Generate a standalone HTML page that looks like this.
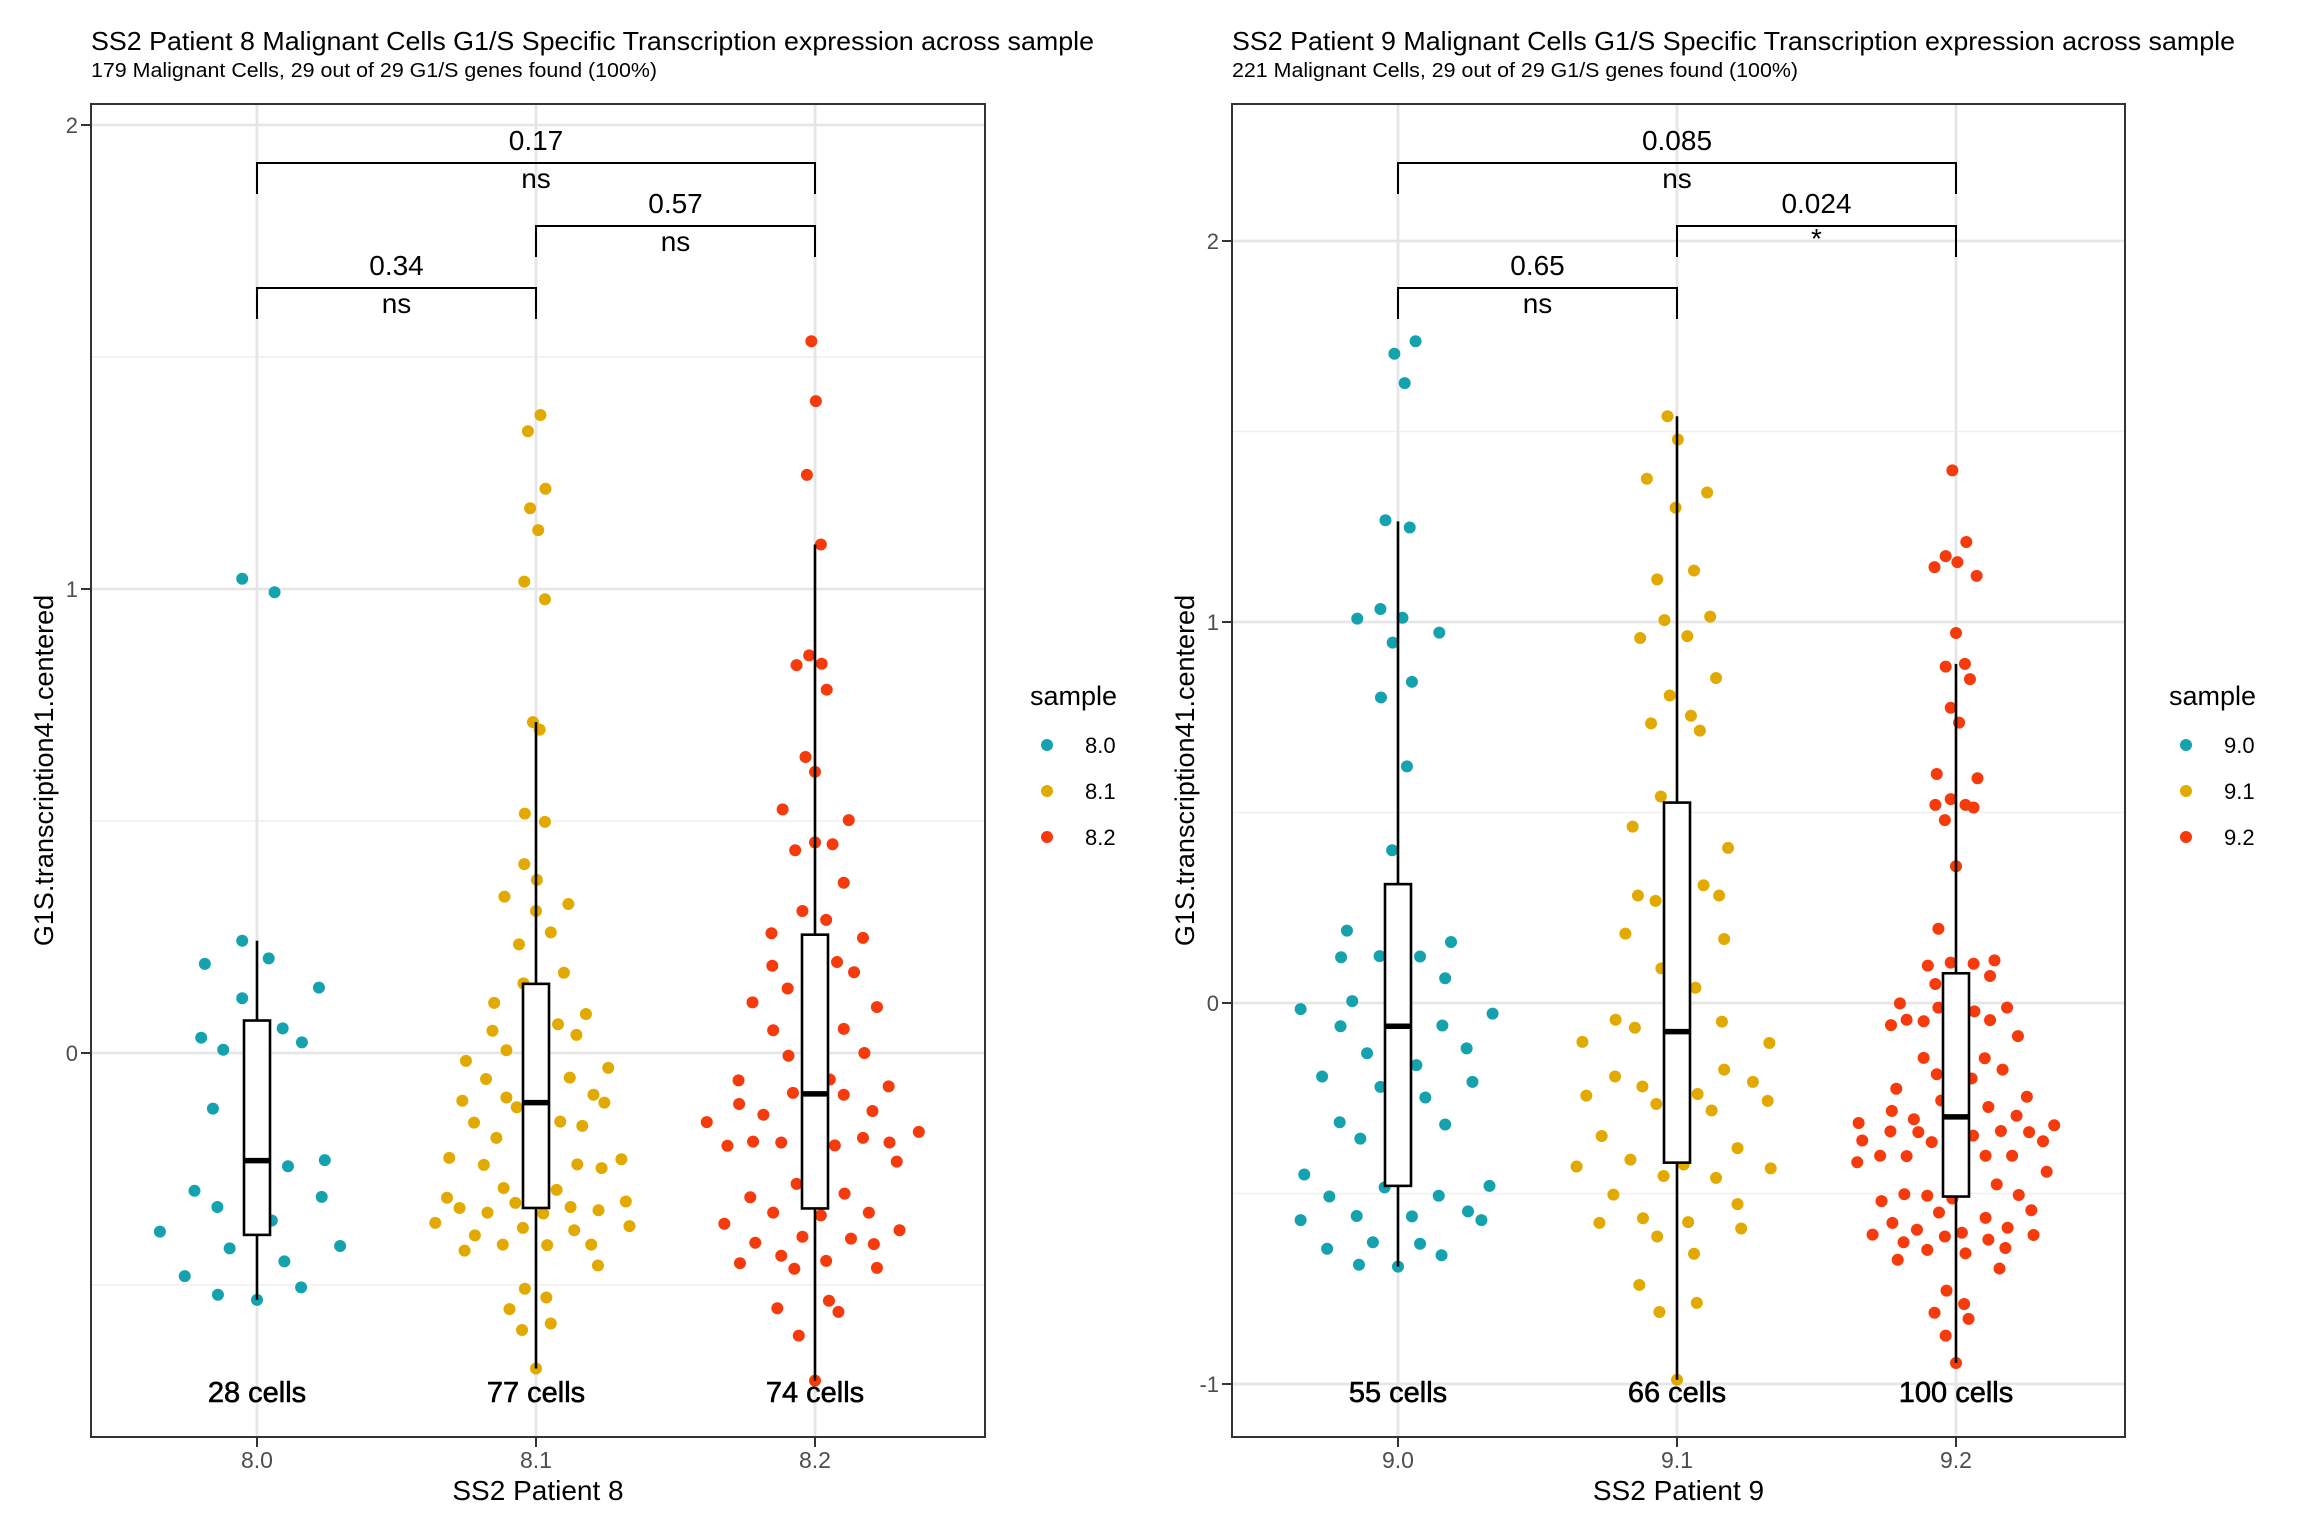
<!DOCTYPE html>
<html><head><meta charset="utf-8"><style>
html,body{margin:0;padding:0;background:#fff;}
svg{display:block;font-family:"Liberation Sans",Arial,sans-serif;}
</style></head><body>
<svg id="chart" width="2304" height="1536" viewBox="0 0 2304 1536" xmlns="http://www.w3.org/2000/svg"></svg>
<script>
// ---------- DATA ----------
const colors = ["#15A2AF", "#E2AA00", "#F53A0C"];
const p8Categories = ["8.0", "8.1", "8.2"];
const p9Categories = ["9.0", "9.1", "9.2"];
const p8Counts = ["28 cells", "77 cells", "74 cells"];
const p9Counts = ["55 cells", "66 cells", "100 cells"];
const p8Yticks = [0, 1, 2];
const p9Yticks = [-1, 0, 1, 2];
const minorTicks = [-0.5, 0.5, 1.5];
// jitter (category units) and values
const p8_0_dx = [-0.053,0.063,-0.053,-0.187,0.042,0.222,-0.053,0.092,-0.2,0.161,-0.121,-0.158,0.111,0.243,-0.224,-0.142,0.232,0.053,-0.348,0.298,-0.098,0.098,-0.259,0.158,-0.14,0];
const p8_0_v  = [1.022,0.993,0.242,0.192,0.204,0.141,0.118,0.053,0.033,0.023,0.007,-0.12,-0.244,-0.231,-0.297,-0.332,-0.31,-0.361,-0.385,-0.416,-0.421,-0.449,-0.481,-0.505,-0.521,-0.532];
const p8_1_dx = [0.016,-0.029,0.034,-0.021,0.008,-0.042,0.032,-0.011,0.013,-0.04,0.032,-0.042,0.003,-0.113,0.116,0,0.053,-0.061,0.1,-0.045,-0.15,0.179,-0.156,0.079,0.145,-0.106,-0.251,0.259,-0.179,0.121,-0.264,-0.106,0.206,0.245,-0.069,-0.222,0.087,0.166,-0.142,-0.311,-0.187,0.148,0.306,0.235,-0.116,0.074,-0.319,-0.074,0.322,-0.274,-0.174,0.026,0.124,0.224,-0.361,0.335,-0.219,-0.047,0.137,-0.119,0.04,0.198,-0.256,0.222,-0.04,0.037,-0.095,0.053,-0.05,0];
const p8_1_v  = [1.375,1.34,1.216,1.174,1.127,1.016,0.978,0.713,0.697,0.516,0.498,0.407,0.373,0.337,0.321,0.306,0.26,0.234,0.173,0.15,0.108,0.084,0.048,0.062,0.039,0.006,-0.017,-0.032,-0.056,-0.053,-0.103,-0.096,-0.09,-0.107,-0.117,-0.15,-0.148,-0.157,-0.183,-0.226,-0.241,-0.24,-0.229,-0.248,-0.291,-0.295,-0.312,-0.323,-0.32,-0.334,-0.344,-0.346,-0.332,-0.339,-0.366,-0.373,-0.393,-0.377,-0.382,-0.413,-0.414,-0.413,-0.426,-0.458,-0.508,-0.527,-0.552,-0.583,-0.597,-0.68];
const p8_2_dx = [-0.013,0.003,-0.029,0.021,-0.021,-0.066,0.024,0.042,-0.034,0,-0.116,0.121,0,0.063,-0.071,0.103,-0.045,0.04,-0.156,0.172,0.079,-0.153,0.14,-0.098,-0.224,0.222,-0.15,0.103,-0.095,0.177,-0.274,0.053,0.264,-0.079,0.103,-0.272,0.206,-0.185,-0.388,0.372,0.172,-0.222,-0.121,0.267,-0.314,0.071,0.293,-0.066,-0.232,0.106,-0.15,0.021,0.193,-0.325,0.303,-0.045,0.129,-0.214,0.211,-0.121,0.04,-0.269,-0.074,0.222,-0.135,0.05,0.084,-0.058,0];
const p8_2_v  = [1.534,1.405,1.246,1.096,0.857,0.836,0.839,0.783,0.638,0.606,0.525,0.502,0.454,0.45,0.437,0.367,0.306,0.287,0.258,0.248,0.196,0.188,0.174,0.139,0.109,0.099,0.049,0.052,-0.006,0,-0.059,-0.057,-0.072,-0.086,-0.09,-0.11,-0.125,-0.133,-0.149,-0.17,-0.183,-0.191,-0.193,-0.193,-0.2,-0.199,-0.234,-0.282,-0.311,-0.303,-0.344,-0.35,-0.344,-0.368,-0.382,-0.396,-0.4,-0.409,-0.412,-0.437,-0.448,-0.453,-0.465,-0.463,-0.55,-0.534,-0.558,-0.609,-0.706];
const p9_0_dx = [0.063,-0.013,0.024,-0.045,0.042,-0.063,-0.146,0.016,0.148,-0.019,0.05,-0.061,0.032,-0.021,-0.183,0.19,-0.204,-0.066,0.079,0.169,-0.164,-0.349,0.339,-0.206,0.159,0.246,-0.111,0.066,-0.272,0.267,-0.063,0.098,-0.209,0.169,-0.135,-0.336,-0.048,0.328,-0.246,0.146,-0.148,0.05,0.251,-0.349,0.299,-0.09,0.079,-0.254,0.156,-0.14,0];
const p9_0_v  = [1.737,1.704,1.627,1.267,1.248,1.034,1.009,1.011,0.972,0.946,0.843,0.802,0.621,0.401,0.19,0.16,0.12,0.123,0.122,0.065,0.005,-0.016,-0.028,-0.061,-0.059,-0.119,-0.132,-0.163,-0.193,-0.207,-0.22,-0.248,-0.313,-0.319,-0.356,-0.45,-0.484,-0.48,-0.508,-0.506,-0.559,-0.56,-0.547,-0.57,-0.57,-0.628,-0.632,-0.645,-0.662,-0.687,-0.692];
const p9_1_dx = [-0.034,0.003,-0.108,0.108,-0.005,0.061,-0.071,-0.045,0.119,-0.132,0.037,0.14,-0.026,0.05,-0.093,0.082,-0.058,-0.159,0.183,0.095,-0.14,-0.077,0.151,-0.185,0.169,-0.056,0.066,-0.22,-0.151,0.161,-0.339,0.331,0.169,-0.222,0.272,-0.124,-0.325,0.074,0.325,-0.074,0.124,-0.27,0.217,-0.167,-0.36,0.024,0.336,-0.048,0.14,-0.228,0.217,-0.278,-0.122,0.04,0.23,-0.071,0.061,-0.135,0.071,-0.063,0];
const p9_1_v  = [1.54,1.479,1.376,1.34,1.3,1.135,1.112,1.005,1.014,0.958,0.963,0.853,0.807,0.754,0.734,0.715,0.542,0.463,0.407,0.309,0.282,0.268,0.282,0.182,0.168,0.091,0.04,-0.044,-0.065,-0.049,-0.102,-0.105,-0.175,-0.193,-0.207,-0.219,-0.243,-0.239,-0.257,-0.265,-0.282,-0.349,-0.381,-0.411,-0.429,-0.424,-0.434,-0.454,-0.459,-0.503,-0.528,-0.577,-0.565,-0.575,-0.592,-0.613,-0.658,-0.74,-0.787,-0.811,-0.989];
const p9_2_dx = [-0.013,0.037,-0.037,0.005,-0.077,0.074,0,0.032,-0.037,0.05,-0.019,0.011,-0.069,0.077,-0.074,-0.019,0.034,0.063,-0.04,0,-0.063,-0.101,-0.019,0.063,0.138,0.122,-0.074,-0.201,-0.063,0.183,0.066,-0.177,-0.116,0.122,-0.233,0.222,-0.116,0.103,-0.069,0.167,0.056,-0.214,0.254,-0.053,-0.23,0.116,0.217,-0.151,-0.349,0.352,-0.235,-0.135,0.061,0.161,0.262,-0.336,-0.087,0.312,-0.272,-0.177,0.106,0.201,-0.354,0.325,0.146,-0.185,-0.103,-0.267,-0.013,0.225,-0.061,0.27,0.106,-0.228,0.185,-0.14,0.021,-0.299,-0.04,0.278,-0.188,0.116,-0.103,0.177,0.034,-0.209,0.156,-0.034,0.029,-0.077,0.045,-0.037,0];
const p9_2_v  = [1.398,1.21,1.173,1.157,1.144,1.121,0.971,0.89,0.883,0.85,0.775,0.736,0.601,0.59,0.52,0.535,0.52,0.513,0.48,0.359,0.195,0.098,0.106,0.103,0.112,0.071,0.05,-0.001,-0.012,-0.012,-0.022,-0.044,-0.048,-0.045,-0.058,-0.087,-0.144,-0.145,-0.187,-0.175,-0.198,-0.225,-0.246,-0.256,-0.283,-0.273,-0.296,-0.305,-0.315,-0.321,-0.337,-0.339,-0.348,-0.336,-0.339,-0.361,-0.365,-0.363,-0.401,-0.402,-0.401,-0.401,-0.418,-0.443,-0.476,-0.502,-0.506,-0.52,-0.513,-0.504,-0.55,-0.544,-0.564,-0.577,-0.59,-0.595,-0.603,-0.608,-0.613,-0.609,-0.628,-0.621,-0.648,-0.643,-0.657,-0.674,-0.697,-0.755,-0.79,-0.813,-0.829,-0.873,-0.945];
// box stats [whiskerLow, q1, median, q3, whiskerHigh]
const p8Box0 = [-0.532,-0.392,-0.232,0.07,0.242];
const p8Box1 = [-0.68,-0.334,-0.107,0.149,0.713];
const p8Box2 = [-0.706,-0.335,-0.088,0.255,1.096];
const p9Box0 = [-0.692,-0.48,-0.061,0.312,1.264];
const p9Box1 = [-0.989,-0.419,-0.075,0.526,1.54];
const p9Box2 = [-0.945,-0.508,-0.299,0.078,0.89];
// comparisons
const p8Pvals = ["0.17", "0.57", "0.34"];
const p9Pvals = ["0.085", "0.024", "0.65"];
const p8Sig = ["ns", "ns", "ns"];
const p9Sig = ["ns", "*", "ns"];
const compFrom = [0, 1, 0];
const compTo = [2, 2, 1];

// ---------- DRAW ----------
const NS = "http://www.w3.org/2000/svg";
const svg = document.getElementById("chart");
function mk(tag, attrs, parent) {
  const e = document.createElementNS(NS, tag);
  for (const k in attrs) e.setAttribute(k, attrs[k]);
  (parent || svg).appendChild(e);
  return e;
}
function txt(s, attrs, parent) { const t = mk("text", attrs, parent); t.textContent = s; return t; }

const panels = [
  {left:91, right:985, top:104, bottom:1437, x0:257, step:279, y0:1053, yk:464,
   cats:p8Categories, counts:p8Counts, yticks:p8Yticks,
   dx:[p8_0_dx,p8_1_dx,p8_2_dx], v:[p8_0_v,p8_1_v,p8_2_v], box:[p8Box0,p8Box1,p8Box2],
   pv:p8Pvals, sig:p8Sig, xtitle:"SS2 Patient 8", legx:1030,
   title:"SS2 Patient 8 Malignant Cells G1/S Specific Transcription expression across sample",
   sub:"179 Malignant Cells, 29 out of 29 G1/S genes found (100%)", key:"p8"},
  {left:1232, right:2125, top:104, bottom:1437, x0:1398, step:279, y0:1003, yk:381,
   cats:p9Categories, counts:p9Counts, yticks:p9Yticks,
   dx:[p9_0_dx,p9_1_dx,p9_2_dx], v:[p9_0_v,p9_1_v,p9_2_v], box:[p9Box0,p9Box1,p9Box2],
   pv:p9Pvals, sig:p9Sig, xtitle:"SS2 Patient 9", legx:2169,
   title:"SS2 Patient 9 Malignant Cells G1/S Specific Transcription expression across sample",
   sub:"221 Malignant Cells, 29 out of 29 G1/S genes found (100%)", key:"p9"}
];
const brY = [163, 226, 288];

panels.forEach(P => {
  const g = mk("g", {});
  
  
  const X = (i, d) => P.x0 + P.step * (i + (d || 0));
  const Y = v => P.y0 - P.yk * v;

  const t1 = txt(P.title, {x:P.left, y:50, "font-size":26, textLength:1003, lengthAdjust:"spacingAndGlyphs"}, g);
  
  
  const t2 = txt(P.sub, {x:P.left, y:77, "font-size":20, textLength:566, lengthAdjust:"spacingAndGlyphs"}, g);
  
  

  minorTicks.forEach(v => {
    const y = Y(v);
    if (y > P.top && y < P.bottom) {
      const l = mk("line", {x1:P.left, x2:P.right, y1:y, y2:y, stroke:"#EFEFEF", "stroke-width":1.5}, g);
      
      
    }
  });
  P.yticks.forEach(v => {
    const y = Y(v);
    const l = mk("line", {x1:P.left, x2:P.right, y1:y, y2:y, stroke:"#E6E6E6", "stroke-width":2.8}, g);
    
    
    mk("line", {x1:P.left-10, x2:P.left, y1:y, y2:y, stroke:"#333", "stroke-width":2}, g);
    const tl = txt(String(v), {x:P.left-13, y:y+8, "font-size":22, fill:"#4D4D4D", "text-anchor":"end"}, g);
    
    
  });
  P.cats.forEach((c, i) => {
    const l = mk("line", {x1:X(i), x2:X(i), y1:P.top, y2:P.bottom, stroke:"#E6E6E6", "stroke-width":2.8}, g);
    
    
  });

  P.cats.forEach((c, i) => {
    const dx = P.dx[i], vs = P.v[i];
    for (let k = 0; k < vs.length; k++) {
      const pt = mk("circle", {cx:X(i, dx[k]), cy:Y(vs[k]), r:6, fill:colors[i]}, g);
      
      
    }
  });
  P.cats.forEach((c, i) => {
    const b = P.box[i], cx = X(i), hw = 13;
    const bg = mk("g", {}, g);
    
    
    mk("line", {x1:cx, x2:cx, y1:Y(b[4]), y2:Y(b[3]), stroke:"#000", "stroke-width":2.6}, bg);
    mk("line", {x1:cx, x2:cx, y1:Y(b[1]), y2:Y(b[0]), stroke:"#000", "stroke-width":2.6}, bg);
    mk("rect", {x:cx-hw, y:Y(b[3]), width:hw*2, height:Y(b[1])-Y(b[3]), fill:"#fff", stroke:"#000", "stroke-width":2.6}, bg);
    mk("line", {x1:cx-hw, x2:cx+hw, y1:Y(b[2]), y2:Y(b[2]), stroke:"#000", "stroke-width":5.5}, bg);
    const ct = txt(P.counts[i], {x:cx, y:1402, "font-size":29, "text-anchor":"middle", stroke:"#000", "stroke-width":0.6}, g);
    
    
    mk("line", {x1:cx, x2:cx, y1:P.bottom, y2:P.bottom+10, stroke:"#333", "stroke-width":2}, g);
    const xl = txt(c, {x:cx, y:1468, "font-size":23, fill:"#4D4D4D", "text-anchor":"middle"}, g);
    
    
  });
  compFrom.forEach((f, j) => {
    const y = brY[j], xa = X(f), xb = X(compTo[j]);
    const bg = mk("g", {}, g);
    
    
    mk("path", {d:`M${xa},${y+31} V${y} H${xb} V${y+31}`, fill:"none", stroke:"#000", "stroke-width":2}, bg);
    txt(P.pv[j], {x:(xa+xb)/2, y:y-13, "font-size":28, "text-anchor":"middle"}, bg);
    txt(P.sig[j], {x:(xa+xb)/2, y:P.sig[j]==="*"? y+22 : y+25, "font-size":28, "text-anchor":"middle"}, bg);
  });
  const bd = mk("rect", {x:P.left, y:P.top, width:P.right-P.left, height:P.bottom-P.top, fill:"none", stroke:"#333", "stroke-width":2}, g);
  
  
  const xt = txt(P.xtitle, {x:(P.left+P.right)/2, y:1500, "font-size":28, "text-anchor":"middle"}, g);
  
  
  const ytx = P.left - 38, yty = (P.top + P.bottom) / 2;
  const yt = txt("G1S.transcription41.centered", {x:ytx, y:yty, "font-size":27, "text-anchor":"middle", transform:`rotate(-90 ${ytx} ${yty})`}, g);
  
  
  const lg = mk("g", {}, g);
  
  
  txt("sample", {x:P.legx, y:705, "font-size":27}, lg);
  const ly = [745, 791, 837];
  P.cats.forEach((c, i) => {
    const e = mk("g", {}, lg);
    
    
    mk("circle", {cx:P.legx+17, cy:ly[i], r:6, fill:colors[i]}, e);
    txt(c, {x:P.legx+55, y:ly[i]+8, "font-size":22}, e);
  });
});
</script>
</body></html>
